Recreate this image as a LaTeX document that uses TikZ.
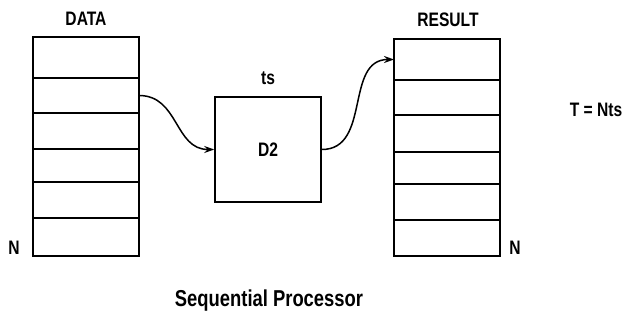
\documentclass[tikz,border=0pt]{standalone}
\usepackage{fontspec}
\newfontfamily\lab{Liberation Sans}[FakeStretch=0.8]
\usetikzlibrary{arrows.meta}
\begin{document}
\begin{tikzpicture}[x=1pt,y=-1pt,
  line width=1.6pt,
  cell/.style={draw, inner sep=0pt, outer sep=0pt, minimum width=106pt, anchor=north west},
  lbl/.style={font=\lab\bfseries\fontsize{19.5}{22}\selectfont, inner sep=0pt},
  flow/.style={-{Stealth[length=10pt,width=7pt]}, line width=1.5pt}]
\useasboundingbox (0,0) rectangle (628,331);
% input data stack
\node[cell, minimum height=41pt] (d1) at (33,37) {};
\node[cell, minimum height=35pt] (d2) at (33,78) {};
\node[cell, minimum height=36pt] (d3) at (33,113) {};
\node[cell, minimum height=33pt] (d4) at (33,149) {};
\node[cell, minimum height=36pt] (d5) at (33,182) {};
\node[cell, minimum height=38pt] (d6) at (33,218) {};
\node[lbl] (dlab) at (86,19) {DATA};
\node[lbl] (dn) at (14,248) {N};
% processing element
\node[draw, inner sep=0pt, minimum width=106pt, minimum height=105pt] (proc) at (268,149.5) {};
\node[lbl] (plab) at (proc.center) {D2};
\node[lbl] (ts) at (268,78) {ts};
% result stack
\node[cell, minimum height=41pt] (r1) at (394,39) {};
\node[cell, minimum height=35pt] (r2) at (394,80) {};
\node[cell, minimum height=37pt] (r3) at (394,115) {};
\node[cell, minimum height=32pt] (r4) at (394,152) {};
\node[cell, minimum height=36pt] (r5) at (394,184) {};
\node[cell, minimum height=36pt] (r6) at (394,220) {};
\node[lbl] (rlab) at (448,20) {RESULT};
\node[lbl] (rn) at (515,248) {N};
\node[lbl] (tt) at (596,110) {T = Nts};
% connectors
\draw[flow] (d2.east) to[out=0, in=180, looseness=1.1] (proc.west);
\draw[flow] (proc.east) to[out=0, in=180, looseness=1.1] (r1.west);
\node[font=\lab\bfseries\fontsize{23}{26}\selectfont, inner sep=0pt] (title) at (269,301) {Sequential Processor};
\end{tikzpicture}
\end{document}
